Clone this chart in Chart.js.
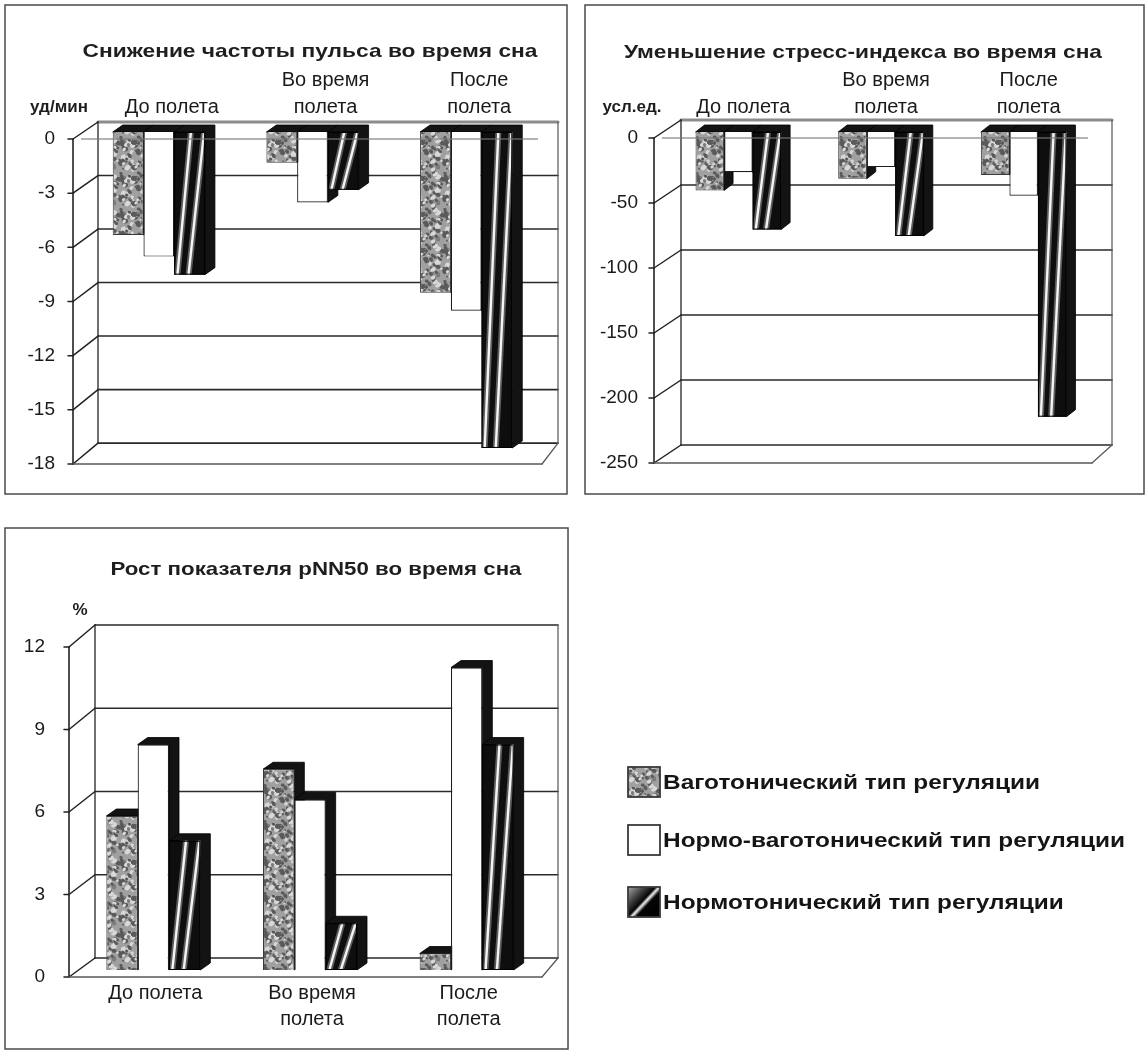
<!DOCTYPE html>
<html>
<head>
<meta charset="utf-8">
<script src="https://cdn.jsdelivr.net/npm/chart.js@4.4.1/dist/chart.umd.min.js"></script>
<style>
  html, body { margin: 0; padding: 0; background: #fff; }
  #wrap { position: relative; width: 1147px; height: 1054px; overflow: hidden; }
  #wrap canvas { position: absolute; left: 0; top: 0; }
</style>
</head>
<body>
<div id="wrap">
  <canvas id="pulse" width="1147" height="1054"></canvas>
  <canvas id="stress" width="1147" height="1054"></canvas>
  <canvas id="pnn" width="1147" height="1054"></canvas>
</div>
<script>
// ---- data ----
const periods = ['До полета', ['Во время', 'полета'], ['После', 'полета']];
const regulationTypes = [
  'Ваготонический тип регуляции',
  'Нормо-ваготонический тип регуляции',
  'Нормотонический тип регуляции'
];

// Снижение частоты пульса во время сна, уд/мин
const pulseVagotonic      = [-5.7, -1.7, -8.9];
const pulseNormoVagotonic = [-6.9, -3.9, -9.9];
const pulseNormotonic     = [-7.9, -3.2, -17.5];
const pulseTicks = [0, -3, -6, -9, -12, -15, -18];

// Уменьшение стресс-индекса во время сна, усл.ед.
const stressVagotonic      = [-45, -36, -33];
const stressNormoVagotonic = [-31, -27, -49];
const stressNormotonic     = [-75, -80, -219];
const stressTicks = [0, -50, -100, -150, -200, -250];

// Рост показателя pNN50 во время сна, %
const pnnVagotonic      = [5.6, 7.3, 0.6];
const pnnNormoVagotonic = [8.2, 6.2, 11.0];
const pnnNormotonic     = [4.7, 1.7, 8.2];
const pnnTicks = [0, 3, 6, 9, 12];

const titles = [
  'Снижение частоты пульса во время сна',
  'Уменьшение стресс-индекса во время сна',
  'Рост показателя pNN50 во время сна'
];
const units = ['уд/мин', 'усл.ед.', '%'];

// ---- drawing helpers ----
const FONT = "'Liberation Sans', Arial, sans-serif";

// mottled grey texture for the first series
function speckleTile() {
  const n = 36;
  const raw = document.createElement('canvas');
  raw.width = raw.height = n;
  const g = raw.getContext('2d');
  g.fillStyle = '#a0a0a0';
  g.fillRect(0, 0, n, n);
  const hash = (a, b) => {
    const s = Math.sin(a * 12.9898 + b * 78.233) * 43758.5453;
    return s - Math.floor(s);
  };
  for (let i = 0; i < 90; i++) {
    const x = hash(i, 1.3) * n, y = hash(i, 7.1) * n;
    const r = 0.8 + hash(i, 3.7) * 1.8;
    const t = hash(i, 5.9);
    g.fillStyle = t < 0.45 ? '#5a5a5a' : t < 0.6 ? '#7c7c7c' : '#d8d8d8';
    for (const dx of [-n, 0, n]) for (const dy of [-n, 0, n]) {
      g.beginPath();
      g.ellipse(x + dx, y + dy, r * 1.3, r, t * 3, 0, Math.PI * 2);
      g.fill();
    }
  }
  const soft = document.createElement('canvas');
  soft.width = soft.height = n;
  const sg = soft.getContext('2d');
  sg.filter = 'blur(0.7px)';
  for (const dx of [-n, 0, n]) for (const dy of [-n, 0, n]) sg.drawImage(raw, dx, dy);
  return soft;
}
const tile = speckleTile();
const speckle = document.createElement('canvas').getContext('2d').createPattern(tile, 'repeat');

function drawHatch(ctx, L, T, W, H) {
  ctx.save();
  ctx.beginPath();
  ctx.rect(L, T, W, H);
  ctx.clip();
  ctx.fillStyle = '#0e0e0e';
  ctx.fillRect(L, T, W, H);
  const stripes = [[0.10, 0.55], [0.46, 0.98]];
  for (const [b, t] of stripes) {
    ctx.beginPath();
    ctx.moveTo(L + b * W, T + H + 2);
    ctx.lineTo(L + t * W, T - 2);
    ctx.strokeStyle = '#5c5c5c';
    ctx.lineWidth = 6;
    ctx.stroke();
    ctx.strokeStyle = '#f4f4f4';
    ctx.lineWidth = 2.4;
    ctx.stroke();
  }
  ctx.restore();
  ctx.save();
  ctx.strokeStyle = '#000';
  ctx.lineWidth = 1;
  ctx.strokeRect(L + 0.5, T + 0.5, W - 1, H - 1);
  ctx.restore();
}

function fitText(ctx, text, x, y, font, width, align) {
  ctx.save();
  ctx.font = font;
  ctx.textBaseline = 'middle';
  ctx.textAlign = align || 'center';
  const w = ctx.measureText(text).width;
  ctx.translate(x, y);
  if (width) ctx.scale(width / w, 1);
  ctx.fillText(text, 0, 0);
  ctx.restore();
}

function line(ctx, x0, y0, x1, y1, color, lw) {
  ctx.beginPath();
  ctx.moveTo(x0, y0);
  ctx.lineTo(x1, y1);
  ctx.strokeStyle = color;
  ctx.lineWidth = lw;
  ctx.stroke();
}

// walls, floor and box sides of the 3-D columns
const scene3d = {
  id: 'scene3d',
  beforeDraw(chart, args, o) {
    const ctx = chart.ctx;
    ctx.save();
    ctx.strokeStyle = '#4a4a4a';
    ctx.lineWidth = 1.5;
    const f = o.frame;
    ctx.strokeRect(f[0], f[1], f[2] - f[0], f[3] - f[1]);
    ctx.fillStyle = '#1e1e1e';
    fitText(ctx, o.title.text, o.title.x, o.title.y, 'bold 19px ' + FONT, o.title.w);
    fitText(ctx, o.unit.text, o.unit.x, o.unit.y, 'bold 17px ' + FONT, null);
    ctx.restore();
  },
  beforeDatasetsDraw(chart, args, o) {
    const ctx = chart.ctx;
    const ys = chart.scales.y;
    const y0 = ys.getPixelForValue(0);
    const fy = v => y0 + o.front.dy + (ys.getPixelForValue(v) - y0) * o.front.k;
    const by = v => y0 + o.back.dy + (ys.getPixelForValue(v) - y0) * o.back.k;
    const vals = ys.ticks.map(t => t.value);
    const vTop = ys.max, vBot = ys.min;
    ctx.save();
    ctx.lineCap = 'round';
    // back wall
    for (const v of vals) {
      if (o.zeroLine && v === 0) {
        line(ctx, o.back.x0, by(v), o.back.x1, by(v), '#8c8c8c', 3);
      } else {
        line(ctx, o.back.x0, by(v), o.back.x1, by(v), '#2a2a2a', 1.6);
      }
    }
    line(ctx, o.back.x0, by(vTop), o.back.x0, by(vBot), '#333', 1.4);
    line(ctx, o.back.x1, by(vTop), o.back.x1, by(vBot), '#555', 1.2);
    // side wall and front axis
    for (const v of vals) {
      line(ctx, o.front.x0, fy(v), o.back.x0, by(v), '#222', 1.5);
      line(ctx, o.front.x0 - 5, fy(v), o.front.x0, fy(v), '#222', 1.5);
    }
    line(ctx, o.front.x0, fy(vTop), o.front.x0, fy(vBot), '#222', 1.6);
    // floor
    const fv = o.floorValue;
    line(ctx, o.front.x0, fy(fv), o.front.x1, fy(fv), '#5a5a5a', 1.3);
    line(ctx, o.front.x1, fy(fv), o.back.x1, by(fv), '#5a5a5a', 1.3);
    ctx.restore();

    // top and right faces of every column, painted from left to right
    const boxes = [];
    chart.data.datasets.forEach((ds, i) => {
      chart.getDatasetMeta(i).data.forEach(el => {
        const p = el.getProps(['x', 'y', 'base', 'width'], true);
        boxes.push({
          L: p.x - p.width / 2, R: p.x + p.width / 2,
          T: Math.min(p.y, p.base), B: Math.max(p.y, p.base)
        });
      });
    });
    boxes.sort((a, b) => a.L - b.L);
    const dx = o.depth.dx, dy = o.depth.dy;
    ctx.save();
    ctx.fillStyle = '#131313';
    ctx.strokeStyle = '#000';
    ctx.lineWidth = 0.8;
    for (const b of boxes) {
      ctx.beginPath();
      ctx.moveTo(b.L, b.T);
      ctx.lineTo(b.L + dx, b.T + dy);
      ctx.lineTo(b.R + dx, b.T + dy);
      ctx.lineTo(b.R + dx, b.B + dy);
      ctx.lineTo(b.R, b.B);
      ctx.lineTo(b.R, b.T);
      ctx.closePath();
      ctx.fill();
      ctx.stroke();
    }
    ctx.restore();
  },
  afterDatasetsDraw(chart, args, o) {
    const ctx = chart.ctx;
    chart.data.datasets.forEach((ds, i) => {
      if (!ds.hatched) return;
      chart.getDatasetMeta(i).data.forEach(el => {
        const p = el.getProps(['x', 'y', 'base', 'width'], true);
        const T = Math.min(p.y, p.base), B = Math.max(p.y, p.base);
        drawHatch(ctx, p.x - p.width / 2, T, p.width, B - T);
      });
    });
    if (o.zeroLine) {
      const ys = chart.scales.y;
      const y = ys.getPixelForValue(0) + o.front.dy;
      ctx.save();
      line(ctx, o.front.x0 + 8, y, o.front.x1 - 4, y, 'rgba(120,120,120,0.75)', 1.6);
      ctx.restore();
    }
    if (o.legend) {
      const lg = o.legend;
      ctx.save();
      chart.data.datasets.forEach((ds, i) => {
        const cy = lg.rows[i];
        const x = lg.x, y = cy - lg.box / 2, w = lg.box + 2, h = lg.box;
        if (i === 0) {
          ctx.fillStyle = ctx.createPattern(tile, 'repeat');
          ctx.fillRect(x, y, w, h);
        } else if (i === 1) {
          ctx.fillStyle = '#fff';
          ctx.fillRect(x, y, w, h);
        } else {
          const g = ctx.createLinearGradient(x, y, x + w, y + h);
          g.addColorStop(0, '#a8a8a8');
          g.addColorStop(0.3, '#3a3a3a');
          g.addColorStop(0.46, '#050505');
          g.addColorStop(0.52, '#f0f0f0');
          g.addColorStop(0.6, '#050505');
          g.addColorStop(1, '#000');
          ctx.fillStyle = g;
          ctx.fillRect(x, y, w, h);
        }
        ctx.strokeStyle = '#3a3a3a';
        ctx.lineWidth = 1.8;
        ctx.strokeRect(x, y, w, h);
      });
      // one common horizontal scale for all three legend texts
      ctx.font = 'bold 20px ' + FONT;
      const widest = Math.max(...chart.data.datasets.map(d => ctx.measureText(d.label).width));
      const sx = lg.widest / widest;
      ctx.fillStyle = '#151515';
      chart.data.datasets.forEach((ds, i) => {
        ctx.save();
        ctx.textBaseline = 'middle';
        ctx.textAlign = 'left';
        ctx.translate(lg.textX, lg.rows[i] + 1);
        ctx.scale(sx, 1);
        ctx.fillText(ds.label, 0, 0);
        ctx.restore();
      });
      ctx.restore();
    }
  }
};

function columnChart(id, series, ticks, axis, scene) {
  return new Chart(document.getElementById(id), {
    type: 'bar',
    data: {
      labels: periods,
      datasets: [
        { label: regulationTypes[0], data: series[0], backgroundColor: speckle, borderColor: '#3a3a3a', borderWidth: 1 },
        { label: regulationTypes[1], data: series[1], backgroundColor: '#ffffff', borderColor: '#1e1e1e', borderWidth: 1.2 },
        { label: regulationTypes[2], data: series[2], backgroundColor: '#0e0e0e', borderColor: '#000', borderWidth: 1, hatched: true }
      ]
    },
    options: {
      responsive: false,
      animation: false,
      events: [],
      layout: { padding: axis.padding },
      datasets: { bar: { categoryPercentage: 0.6, barPercentage: 1.0 } },
      plugins: {
        legend: { display: false },
        tooltip: { enabled: false },
        scene3d: scene
      },
      scales: {
        x: {
          position: axis.xPosition,
          grid: { display: false, drawTicks: false },
          border: { display: false },
          ticks: {
            color: '#1a1a1a',
            font: { family: FONT, size: 20, lineHeight: axis.lineHeight },
            padding: axis.xPad,
            labelOffset: axis.xShift,
            maxRotation: 0, minRotation: 0, autoSkip: false
          },
          afterFit: s => { s.height = 75; }
        },
        y: {
          min: Math.min(...ticks),
          max: Math.max(...ticks),
          grid: { display: false, drawTicks: false },
          border: { display: false },
          afterBuildTicks: s => { s.ticks = ticks.map(v => ({ value: v })); },
          ticks: {
            color: '#1a1a1a',
            font: { family: FONT, size: 19 },
            padding: axis.yPad,
            labelOffset: axis.yShift,
            callback: v => String(v)
          },
          afterFit: s => { s.width = 70; }
        }
      }
    },
    plugins: [scene3d]
  });
}

columnChart('pulse',
  [pulseVagotonic, pulseNormoVagotonic, pulseNormotonic], pulseTicks,
  { padding: { left: 12, right: 604, top: 57, bottom: 597 }, xPosition: 'top',
    lineHeight: 1.35, xPad: 11.5, xShift: 13, yPad: 27, yShift: 7 },
  { frame: [5, 5, 567, 494], title: { text: titles[0], x: 310, y: 52, w: 455 },
    unit: { text: units[0], x: 59, y: 107 },
    front: { x0: 73, x1: 542, dy: 7, k: 1 }, back: { x0: 98, x1: 558, dy: -10, k: 0.988 },
    depth: { dx: 10, dy: -7 }, floorValue: -18, zeroLine: true });

columnChart('stress',
  [stressVagotonic, stressNormoVagotonic, stressNormotonic], stressTicks,
  { padding: { left: 597, right: 52, top: 57, bottom: 597 }, xPosition: 'top',
    lineHeight: 1.35, xPad: 11.5, xShift: 5, yPad: 29, yShift: 6 },
  { frame: [585, 5, 1144, 494], title: { text: titles[1], x: 863, y: 53, w: 478 },
    unit: { text: units[1], x: 632, y: 107 },
    front: { x0: 654, x1: 1092, dy: 6, k: 1 }, back: { x0: 681, x1: 1112, dy: -12, k: 1 },
    depth: { dx: 9, dy: -7 }, floorValue: -250, zeroLine: true });

columnChart('pnn',
  [pnnVagotonic, pnnNormoVagotonic, pnnNormotonic], pnnTicks,
  { padding: { left: 5, right: 602, top: 640, bottom: 9 }, xPosition: 'bottom',
    lineHeight: 1.3, xPad: 10, xShift: 2, yPad: 30, yShift: 7 },
  { frame: [5, 528, 568, 1049], title: { text: titles[2], x: 316, y: 570, w: 411 },
    unit: { text: units[2], x: 80, y: 610 },
    front: { x0: 69, x1: 542, dy: 7, k: 1 }, back: { x0: 95, x1: 558, dy: -12, k: 1.009 },
    depth: { dx: 10, dy: -7 }, floorValue: 0, zeroLine: false,
    legend: { x: 628, box: 30, rows: [782, 840, 902], textX: 663, widest: 462 } });
</script>
</body>
</html>
